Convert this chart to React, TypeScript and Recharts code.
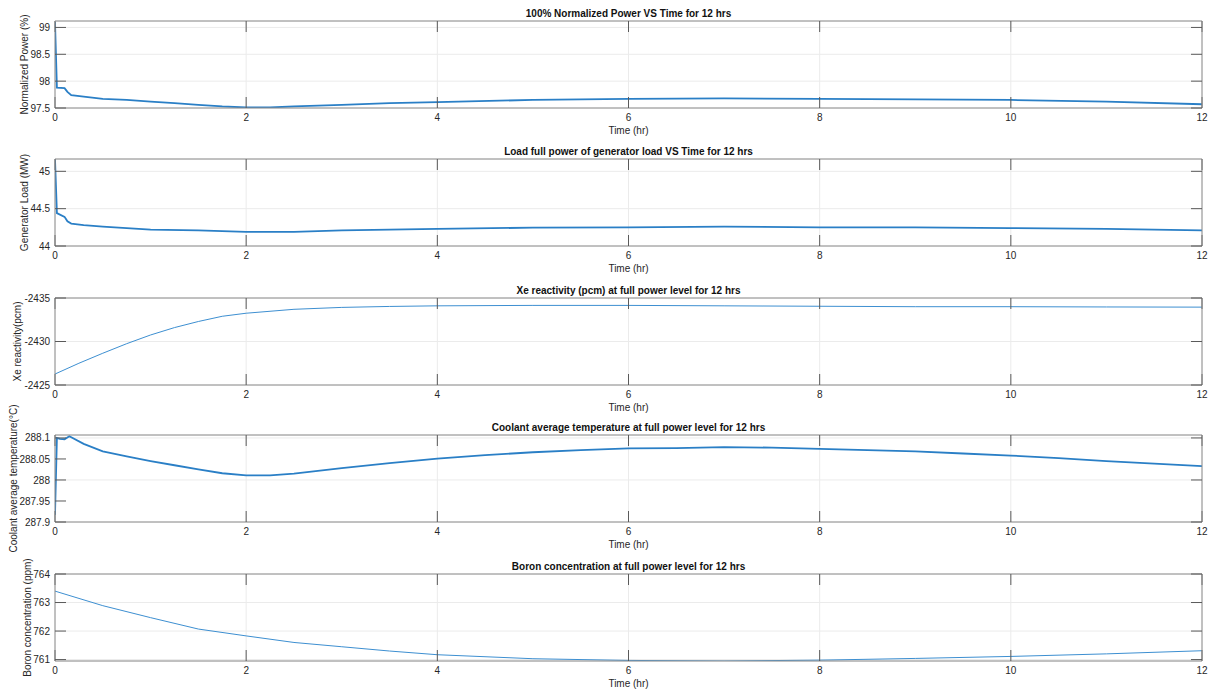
import React from 'react';
import { LineChart, Line, XAxis, YAxis, CartesianGrid, Label } from 'recharts';

// time axis shared by all five panels
const hourTicks = [0, 2, 4, 6, 8, 10, 12];

// 1) normalized power (%)
const powerT = [0, 0.02, 0.1, 0.13, 0.17, 0.3, 0.5, 0.75, 1, 1.25, 1.5, 1.75, 2, 2.25, 2.5, 3, 3.5, 4, 5, 6, 7, 8, 9, 10, 11, 12];
const powerV = [99.1, 97.88, 97.87, 97.8, 97.74, 97.71, 97.67, 97.65, 97.62, 97.59, 97.56, 97.53, 97.51, 97.51, 97.53, 97.56, 97.59, 97.61, 97.65, 97.67, 97.68, 97.67, 97.66, 97.65, 97.62, 97.57];
const powerTicks = [97.5, 98, 98.5, 99];

// 2) generator load (MW)
const loadT = [0, 0.02, 0.1, 0.13, 0.17, 0.3, 0.5, 0.75, 1, 1.5, 2, 2.5, 3, 4, 5, 6, 7, 8, 9, 10, 11, 12];
const loadV = [45.16, 44.44, 44.39, 44.33, 44.3, 44.28, 44.26, 44.24, 44.22, 44.21, 44.19, 44.19, 44.21, 44.23, 44.245, 44.25, 44.26, 44.25, 44.25, 44.24, 44.23, 44.21];
const loadTicks = [44, 44.5, 45];

// 3) Xe reactivity (pcm), axis drawn reversed
const xeT = [0, 0.25, 0.5, 0.75, 1, 1.25, 1.5, 1.75, 2, 2.5, 3, 3.5, 4, 5, 6, 7, 8, 9, 10, 11, 12];
const xeV = [-2426.26, -2427.5, -2428.65, -2429.75, -2430.75, -2431.6, -2432.3, -2432.9, -2433.25, -2433.7, -2433.92, -2434.03, -2434.1, -2434.15, -2434.15, -2434.1, -2434.05, -2434.0, -2434.0, -2433.97, -2433.95];
const xeTicks = [-2435, -2430, -2425];

// 4) coolant average temperature (°C)
const coolT = [0, 0.02, 0.05, 0.1, 0.15, 0.3, 0.5, 0.75, 1, 1.25, 1.5, 1.75, 2, 2.25, 2.5, 3, 3.5, 4, 4.5, 5, 5.5, 6, 6.5, 7, 7.5, 8, 8.5, 9, 9.5, 10, 10.5, 11, 11.5, 12];
const coolV = [287.917, 288.1, 288.098, 288.097, 288.104, 288.086, 288.068, 288.056, 288.045, 288.035, 288.025, 288.016, 288.011, 288.011, 288.015, 288.028, 288.04, 288.051, 288.059, 288.066, 288.071, 288.075, 288.076, 288.078, 288.077, 288.074, 288.071, 288.068, 288.063, 288.058, 288.052, 288.045, 288.039, 288.033];
const coolTicks = [287.9, 287.95, 288, 288.05, 288.1];

// 5) boron concentration (ppm)
const boronT = [0, 0.5, 1, 1.5, 2, 2.5, 3, 3.5, 4, 5, 6, 7, 8, 9, 10, 11, 12];
const boronV = [763.4, 762.89, 762.47, 762.07, 761.83, 761.6, 761.45, 761.3, 761.17, 761.03, 760.97, 760.95, 760.98, 761.04, 761.11, 761.2, 761.31];
const boronTicks = [761, 762, 763, 764];

const FONT = '"Liberation Sans", Arial, Helvetica, sans-serif';
const W = 1210;
const CH = 138;
const BOX = '#8c8c8c';
const TICK = '#5a5a5a';
const TXT = '#262626';

// top / right edges of the box: tick marks but no labels
const NoLabel = () => <g />;

type PanelProps = {
  top: number;
  title: string;
  yLabel: string;
  labelX: number;
  t: number[];
  v: number[];
  domain: [number, number];
  yTicks: number[];
  reversed?: boolean;
  noisy?: boolean;
};

const Panel = ({ top, title, yLabel, labelX, t, v, domain, yTicks, reversed, noisy }: PanelProps) => {
  const data = t.map((x, i) => ({ t: x, v: v[i] }));
  const tickFont = { fontSize: 10, fill: TXT, fontFamily: FONT };
  return (
    <div style={{ position: 'absolute', left: 0, top: top - 21, width: W, height: CH }}>
      <div style={{ position: 'absolute', left: 55, width: 1147, top: 7, textAlign: 'center', fontSize: 10, fontWeight: 'bold', fontFamily: FONT, color: '#111', lineHeight: '14px' }}>
        {title}
      </div>
      <LineChart width={W} height={CH} data={data} margin={{ top: 20, right: 7, left: 0, bottom: 0 }}>
        <CartesianGrid stroke="#ebebeb" />
        <XAxis dataKey="t" type="number" domain={[0, 12]} ticks={hourTicks} allowDataOverflow height={30}
          tickSize={-11} tickMargin={17} axisLine={{ stroke: BOX }} tickLine={{ stroke: TICK }} tick={tickFont}>
          <Label value="Time (hr)" position="insideBottom" offset={4} style={{ fontSize: 10, fill: TXT, fontFamily: FONT }} />
        </XAxis>
        <XAxis xAxisId="top" orientation="top" dataKey="t" type="number" domain={[0, 12]} ticks={hourTicks} allowDataOverflow height={1}
          tickSize={-11} tickMargin={0} axisLine={{ stroke: BOX }} tickLine={{ stroke: TICK }} tick={NoLabel} />
        <YAxis type="number" domain={domain} ticks={yTicks} reversed={reversed} allowDataOverflow width={55}
          tickSize={-11} tickMargin={16} axisLine={{ stroke: BOX }} tickLine={{ stroke: TICK }} tick={tickFont}>
          <Label value={yLabel} angle={-90} position="insideLeft" offset={labelX} style={{ fontSize: 10, fill: TXT, fontFamily: FONT, textAnchor: 'middle' }} />
        </YAxis>
        <YAxis yAxisId="right" orientation="right" type="number" domain={domain} ticks={yTicks} reversed={reversed} allowDataOverflow width={1}
          tickSize={-11} tickMargin={0} axisLine={{ stroke: BOX }} tickLine={{ stroke: TICK }} tick={NoLabel} />
        <Line type="linear" dataKey="v" dot={false} isAnimationActive={false}
          stroke={noisy ? '#2a7fc6' : '#3d8fd1'} strokeWidth={noisy ? 1.8 : 1} />
      </LineChart>
    </div>
  );
};

export default function App() {
  return (
    <div style={{ position: 'absolute', left: 0, top: 0, width: W, height: 692, background: '#fff' }}>
      <style>{'.recharts-surface{overflow:visible}'}</style>
      <Panel top={21} title="100% Normalized Power VS Time for 12 hrs" yLabel="Normalized Power (%)" labelX={24}
        t={powerT} v={powerV} domain={[97.5, 99.12]} yTicks={powerTicks} noisy />
      <Panel top={159} title="Load full power of generator load VS Time for 12 hrs" yLabel="Generator Load (MW)" labelX={24}
        t={loadT} v={loadV} domain={[44, 45.165]} yTicks={loadTicks} noisy />
      <Panel top={298} title="Xe reactivity (pcm) at full power level for 12 hrs" yLabel="Xe reactivity(pcm)" labelX={17}
        t={xeT} v={xeV} domain={[-2435, -2425]} yTicks={xeTicks} reversed />
      <Panel top={435} title="Coolant average temperature at full power level for 12 hrs" yLabel="Coolant average temperature(°C)" labelX={13}
        t={coolT} v={coolV} domain={[287.9, 288.107]} yTicks={coolTicks} noisy />
      <Panel top={574} title="Boron concentration at full power level for 12 hrs" yLabel="Boron concentration (ppm)" labelX={27}
        t={boronT} v={boronV} domain={[760.95, 764]} yTicks={boronTicks} />
    </div>
  );
}
